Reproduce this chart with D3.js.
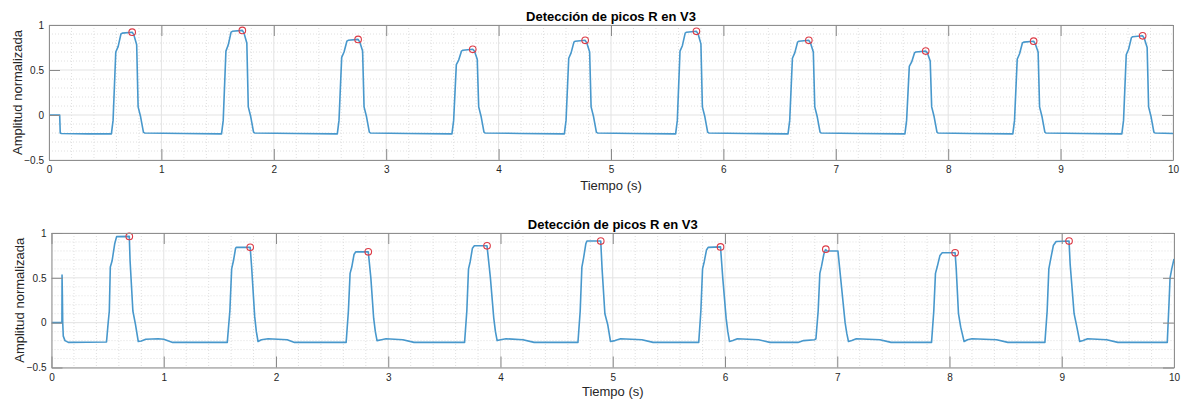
<!DOCTYPE html>
<html><head><meta charset="utf-8">
<script src="https://cdn.jsdelivr.net/npm/d3@7"></script>
<style>body{margin:0;background:#fff}svg text{font-family:"Liberation Sans",Arial,Helvetica,sans-serif}</style>
</head><body>
<svg id="c" width="1186" height="402"></svg>
<script>
// ---------- data ----------
const titleText = "Detección de picos R en V3";
const xLabelText = "Tiempo (s)";
const yLabelText = "Amplitud normalizada";
const xTickValues = [0,1,2,3,4,5,6,7,8,9,10];
const yTickValues = [-0.5,0,0.5,1];
const xDomain = [0,10];
const yDomain = [-0.5,1];

// top panel: [time (s), amplitude]
const topSignal = [
 [0,0],[0.095,0],[0.1,-0.2],[0.11,-0.205],[0.35,-0.21],
 [0.555,-0.21],[0.57,-0.06],[0.594,0.70],[0.615,0.76],[0.64,0.90],[0.652,0.91],[0.74,0.92],[0.755,0.89],[0.78,0.78],[0.793,0.09],[0.815,-0.02],[0.84,-0.19],[0.85,-0.2],[1.2,-0.205],[1.52,-0.21],
 [1.535,-0.21],[1.55,-0.06],[1.574,0.71],[1.595,0.78],[1.62,0.92],[1.632,0.93],[1.72,0.94],[1.735,0.91],[1.76,0.80],[1.773,0.09],[1.795,-0.02],[1.82,-0.19],[1.83,-0.2],[2.2,-0.205],[2.55,-0.21],
 [2.565,-0.21],[2.58,-0.06],[2.604,0.64],[2.625,0.70],[2.65,0.82],[2.662,0.83],[2.75,0.84],[2.765,0.81],[2.79,0.71],[2.803,0.09],[2.825,-0.02],[2.85,-0.19],[2.86,-0.2],[3.2,-0.205],[3.57,-0.21],
 [3.585,-0.21],[3.6,-0.06],[3.624,0.56],[3.645,0.61],[3.67,0.71],[3.682,0.72],[3.77,0.73],[3.785,0.71],[3.81,0.62],[3.823,0.09],[3.845,-0.02],[3.87,-0.19],[3.88,-0.2],[4.2,-0.205],[4.57,-0.21],
 [4.585,-0.21],[4.6,-0.06],[4.624,0.63],[4.645,0.69],[4.67,0.81],[4.682,0.82],[4.77,0.83],[4.785,0.80],[4.81,0.70],[4.823,0.09],[4.845,-0.02],[4.87,-0.19],[4.88,-0.2],[5.2,-0.205],[5.56,-0.21],
 [5.575,-0.21],[5.59,-0.06],[5.614,0.71],[5.635,0.77],[5.66,0.91],[5.672,0.92],[5.76,0.93],[5.775,0.90],[5.80,0.79],[5.813,0.09],[5.835,-0.02],[5.86,-0.19],[5.87,-0.2],[6.2,-0.205],[6.56,-0.21],
 [6.575,-0.21],[6.59,-0.06],[6.614,0.63],[6.635,0.69],[6.66,0.81],[6.672,0.82],[6.76,0.83],[6.775,0.80],[6.80,0.70],[6.813,0.09],[6.835,-0.02],[6.86,-0.19],[6.87,-0.2],[7.2,-0.205],[7.6,-0.21],
 [7.615,-0.21],[7.63,-0.06],[7.654,0.54],[7.675,0.59],[7.70,0.69],[7.712,0.70],[7.80,0.71],[7.815,0.69],[7.84,0.60],[7.853,0.09],[7.875,-0.02],[7.90,-0.19],[7.91,-0.2],[8.2,-0.205],[8.57,-0.21],
 [8.575,-0.21],[8.59,-0.06],[8.614,0.62],[8.635,0.68],[8.66,0.80],[8.672,0.81],[8.76,0.82],[8.775,0.79],[8.80,0.70],[8.813,0.09],[8.835,-0.02],[8.86,-0.19],[8.87,-0.2],[9.2,-0.205],[9.54,-0.21],
 [9.545,-0.21],[9.56,-0.06],[9.584,0.67],[9.605,0.73],[9.63,0.86],[9.642,0.87],[9.73,0.88],[9.745,0.85],[9.77,0.75],[9.783,0.09],[9.805,-0.02],[9.83,-0.19],[9.84,-0.2],[10,-0.205]
];
const topPeaks = [[0.74,0.92],[1.72,0.94],[2.75,0.84],[3.77,0.73],[4.77,0.83],[5.76,0.93],[6.76,0.83],[7.80,0.71],[8.76,0.82],[9.73,0.88]];

// bottom panel
const bottomSignal = [
 [0,0],[0.093,0],[0.094,0.53],[0.097,0.3],[0.1,0],[0.105,-0.15],[0.12,-0.2],[0.15,-0.22],[0.49,-0.215],
 [0.505,0.0],[0.515,0.13],[0.524,0.62],[0.54,0.69],[0.563,0.88],[0.58,0.96],[0.693,0.962],[0.70,0.69],[0.725,0.13],[0.748,-0.02],[0.773,-0.21],[0.8,-0.205],[0.84,-0.185],[0.95,-0.18],[1.0,-0.185],[1.08,-0.22],[1.566,-0.22],
 [1.589,0.13],[1.605,0.6],[1.621,0.69],[1.64,0.83],[1.647,0.84],[1.77,0.84],[1.783,0.62],[1.81,0.07],[1.825,-0.1],[1.84,-0.21],[1.87,-0.19],[1.93,-0.18],[2.1,-0.19],[2.165,-0.22],[2.625,-0.22],
 [2.645,0.13],[2.66,0.55],[2.675,0.62],[2.695,0.76],[2.71,0.79],[2.822,0.79],[2.845,0.5],[2.87,0.05],[2.885,-0.1],[2.90,-0.2],[2.94,-0.19],[2.98,-0.18],[3.13,-0.19],[3.23,-0.22],[3.68,-0.22],
 [3.70,0.13],[3.715,0.6],[3.73,0.68],[3.75,0.83],[3.767,0.857],[3.88,0.857],[3.91,0.5],[3.94,0.05],[3.955,-0.1],[3.97,-0.2],[4.0,-0.19],[4.05,-0.18],[4.2,-0.19],[4.3,-0.22],[4.69,-0.22],
 [4.71,0.13],[4.725,0.62],[4.74,0.72],[4.76,0.88],[4.77,0.91],[4.893,0.91],[4.905,0.6],[4.93,0.1],[4.955,-0.02],[4.98,-0.21],[5.02,-0.2],[5.07,-0.18],[5.26,-0.19],[5.36,-0.22],[5.766,-0.22],
 [5.785,0.13],[5.80,0.6],[5.815,0.68],[5.835,0.81],[5.85,0.84],[5.96,0.845],[5.98,0.5],[6.01,0.05],[6.025,-0.1],[6.04,-0.21],[6.07,-0.2],[6.11,-0.18],[6.3,-0.19],[6.40,-0.22],[6.65,-0.22],[6.7,-0.2],[6.80,-0.19],
 [6.81,-0.18],[6.83,0.13],[6.845,0.55],[6.86,0.63],[6.88,0.76],[6.893,0.81],[6.898,0.815],[6.905,0.80],[7.006,0.80],[7.03,0.5],[7.07,0.0],[7.085,-0.12],[7.10,-0.21],[7.13,-0.2],[7.17,-0.18],[7.38,-0.19],[7.48,-0.22],[7.84,-0.22],
 [7.86,0.13],[7.875,0.55],[7.89,0.62],[7.915,0.75],[7.935,0.78],[8.05,0.78],[8.06,0.6],[8.08,0.1],[8.10,-0.05],[8.13,-0.21],[8.16,-0.19],[8.2,-0.18],[8.42,-0.19],[8.52,-0.22],[8.85,-0.22],
 [8.87,0.13],[8.885,0.6],[8.90,0.7],[8.925,0.86],[8.95,0.905],[9.065,0.91],[9.075,0.65],[9.11,0.1],[9.135,-0.05],[9.16,-0.21],[9.19,-0.2],[9.23,-0.18],[9.40,-0.19],[9.5,-0.22],[9.94,-0.22],
 [9.955,0.2],[9.965,0.5],[9.98,0.6],[10,0.71]
];
const bottomPeaks = [[0.693,0.962],[1.77,0.84],[2.822,0.79],[3.88,0.857],[4.893,0.91],[5.96,0.845],[6.898,0.82],[8.05,0.78],[9.065,0.91]];

// ---------- drawing ----------
const svg = d3.select("#c");
const panels = [
  {l:49, r:1173, t:25, b:160, titleY:20.5, xlabY:189.5, ylabX:22, signal:topSignal, peaks:topPeaks},
  {l:51.5, r:1174, t:233, b:367.5, titleY:228.5, xlabY:396, ylabX:24, signal:bottomSignal, peaks:bottomPeaks}
];

panels.forEach((p,i)=>{
  const x = d3.scaleLinear().domain(xDomain).range([p.l,p.r]);
  const y = d3.scaleLinear().domain(yDomain).range([p.b,p.t]);
  const g = svg.append("g");

  // minor grid
  const xMinor = d3.range(0,10.0001,0.2).filter(v=>Math.abs(v-Math.round(v))>1e-6);
  const yMinor = d3.range(-0.5,1.0001,0.1).filter(v=>Math.abs(v*2-Math.round(v*2))>1e-6);
  g.append("g").selectAll("line").data(xMinor).join("line")
    .attr("x1",d=>x(d)).attr("x2",d=>x(d)).attr("y1",p.t).attr("y2",p.b)
    .attr("stroke","#d8d8d8").attr("stroke-width",0.8).attr("stroke-dasharray","1,2");
  g.append("g").selectAll("line").data(yMinor).join("line")
    .attr("y1",d=>y(d)).attr("y2",d=>y(d)).attr("x1",p.l).attr("x2",p.r)
    .attr("stroke","#d8d8d8").attr("stroke-width",0.8).attr("stroke-dasharray","1,2");
  // major grid
  g.append("g").selectAll("line").data(xTickValues).join("line")
    .attr("x1",d=>x(d)).attr("x2",d=>x(d)).attr("y1",p.t).attr("y2",p.b)
    .attr("stroke","#e3e3e3").attr("stroke-width",1);
  g.append("g").selectAll("line").data(yTickValues).join("line")
    .attr("y1",d=>y(d)).attr("y2",d=>y(d)).attr("x1",p.l).attr("x2",p.r)
    .attr("stroke","#e3e3e3").attr("stroke-width",1);

  // signal
  const clipId = "clip"+i;
  svg.append("clipPath").attr("id",clipId).append("rect")
    .attr("x",p.l).attr("y",p.t).attr("width",p.r-p.l).attr("height",p.b-p.t);
  const line = d3.line().x(d=>x(d[0])).y(d=>y(d[1]));
  g.append("path").datum(p.signal).attr("d",line)
    .attr("clip-path",`url(#${clipId})`)
    .attr("fill","none").attr("stroke","#4898cc").attr("stroke-width",1.6)
    .attr("stroke-linejoin","round");

  // peaks
  g.append("g").selectAll("circle").data(p.peaks).join("circle")
    .attr("cx",d=>x(d[0])).attr("cy",d=>y(d[1])).attr("r",3.3)
    .attr("fill","none").attr("stroke","#dc3a45").attr("stroke-width",1.1);

  // axes (inward ticks, mirrored)
  const axCol = "#8f8f8f";
  const ax = (gen, tr) => {
    const a = g.append("g").attr("transform",tr).call(gen);
    a.select(".domain").attr("stroke",axCol).attr("stroke-width",1);
    a.selectAll(".tick line").attr("stroke","#8a8a8a").attr("stroke-width",1);
    a.selectAll("text").attr("fill","#262626").attr("font-size",10);
    return a;
  };
  ax(d3.axisBottom(x).tickValues(xTickValues).tickSizeInner(-11).tickSizeOuter(0).tickPadding(6).tickFormat(d3.format("d")), `translate(0,${p.b})`);
  ax(d3.axisTop(x).tickValues(xTickValues).tickSizeInner(-11).tickSizeOuter(0).tickFormat(""), `translate(0,${p.t})`);
  ax(d3.axisLeft(y).tickValues(yTickValues).tickSizeInner(-11).tickSizeOuter(0).tickPadding(5).tickFormat(d=>d===0?"0":(d===1?"1":d3.format(".1f")(d))), `translate(${p.l},0)`);
  ax(d3.axisRight(y).tickValues(yTickValues).tickSizeInner(-11).tickSizeOuter(0).tickFormat(""), `translate(${p.r},0)`);

  // texts
  svg.append("text").attr("x",(p.l+p.r)/2).attr("y",p.titleY).attr("text-anchor","middle")
    .attr("font-size",13).attr("font-weight","bold").attr("fill","#000").text(titleText);
  svg.append("text").attr("x",(p.l+p.r)/2).attr("y",p.xlabY).attr("text-anchor","middle")
    .attr("font-size",13).attr("fill","#262626").text(xLabelText);
  svg.append("text").attr("transform",`translate(${p.ylabX},${(p.t+p.b)/2}) rotate(-90)`)
    .attr("text-anchor","middle").attr("font-size",13).attr("fill","#262626").text(yLabelText);
});
</script>
</body></html>
